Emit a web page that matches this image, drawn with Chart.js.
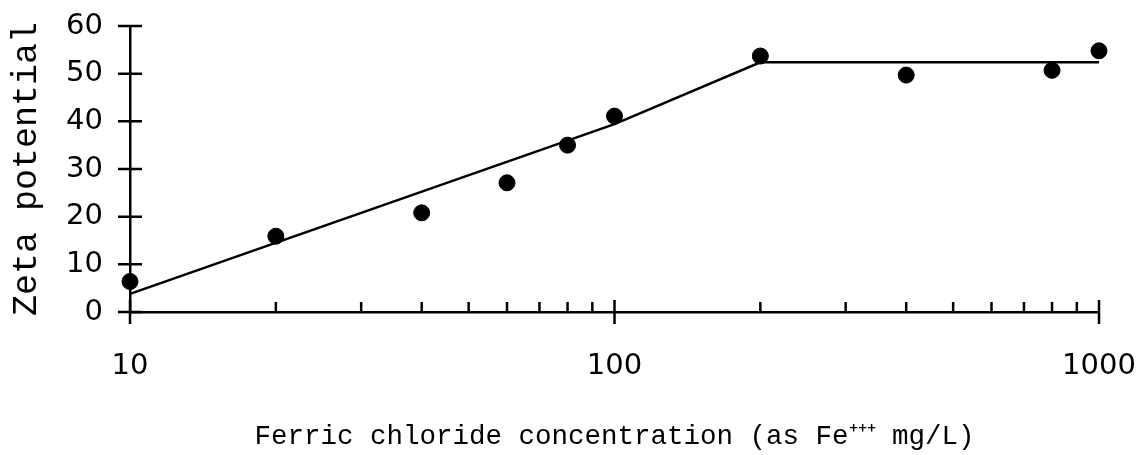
<!DOCTYPE html>
<html>
<head>
<meta charset="utf-8">
<script src="https://cdn.jsdelivr.net/npm/chart.js@4.4.1/dist/chart.umd.min.js"></script>
<style>
  body { margin: 0; background: #fff; }
  .wrap { width: 1144px; height: 455px; }
</style>
</head>
<body>
<div class="wrap"><canvas id="zeta"></canvas></div>
<script>
// measured points (ferric chloride dose, zeta potential)
const doses = [10, 20, 40, 60, 80, 100, 200, 400, 800, 1000];
const zeta = [6.4, 15.9, 20.8, 27.1, 35.0, 41.1, 53.7, 49.7, 50.7, 54.8];

// hand-drawn trend line
const fitDoses = [10, 100, 200, 1000];
const fitZeta = [3.8, 39.4, 52.4, 52.4];

// tick labels / tick marks
const yTicks = [0, 10, 20, 30, 40, 50, 60];
const xMajor = [10, 100, 1000];
const xMinor = [20, 30, 40, 50, 60, 70, 80, 90, 200, 300, 400, 500, 600, 700, 800, 900];

const tickFont = { family: "DejaVu Sans", size: 29 };

// drop the auto padding chart.js adds for edge labels
function noPad(s) {
  s.paddingTop = 0; s.paddingBottom = 0;
  s.paddingLeft = 0; s.paddingRight = 0;
}

// ticks that cross the axis lines, drawn from the scales
const crossTicks = {
  id: "crossTicks",
  afterDraw(chart) {
    const { ctx, chartArea, scales } = chart;
    const x = scales.x, y = scales.y;
    ctx.save();
    ctx.strokeStyle = "#000";
    ctx.lineWidth = 2.5;
    ctx.beginPath();
    yTicks.forEach(v => {
      const py = y.getPixelForValue(v);
      ctx.moveTo(chartArea.left - 12, py);
      ctx.lineTo(chartArea.left + 12, py);
    });
    xMajor.forEach(v => {
      const px = x.getPixelForValue(v);
      ctx.moveTo(px, chartArea.bottom - 12);
      ctx.lineTo(px, chartArea.bottom + 12);
    });
    xMinor.forEach(v => {
      const px = x.getPixelForValue(v);
      ctx.moveTo(px, chartArea.bottom - 10);
      ctx.lineTo(px, chartArea.bottom);
    });
    ctx.stroke();
    ctx.restore();
  }
};

new Chart(document.getElementById("zeta"), {
  type: "scatter",
  data: {
    datasets: [
      {
        label: "fit",
        data: fitDoses.map((d, i) => ({ x: d, y: fitZeta[i] })),
        showLine: true,
        borderColor: "#000",
        borderWidth: 2.5,
        pointRadius: 0,
        tension: 0,
        clip: false
      },
      {
        label: "measured",
        data: doses.map((d, i) => ({ x: d, y: zeta[i] })),
        backgroundColor: "#000",
        borderColor: "#000",
        pointRadius: 8,
        clip: false
      }
    ]
  },
  options: {
    responsive: true,
    maintainAspectRatio: false,
    animation: false,
    layout: { padding: { top: 26, right: 45, left: 0, bottom: 0 } },
    plugins: { legend: { display: false }, tooltip: { enabled: false } },
    scales: {
      x: {
        type: "logarithmic",
        min: 10,
        max: 1000,
        afterBuildTicks: s => { s.ticks = xMajor.map(v => ({ value: v })); },
        afterFit: s => { s.height = 143; noPad(s); },
        grid: { display: false, drawTicks: false },
        border: { display: true, color: "#000", width: 2.5 },
        ticks: {
          font: tickFont,
          color: "#000",
          padding: 37,
          maxRotation: 0,
          autoSkip: false,
          callback: v => String(v)
        },
        title: {
          display: true,
          text: "Ferric chloride concentration (as Fe⁺⁺⁺ mg/L)",
          font: { family: "Liberation Mono", size: 27.5 },
          color: "#000",
          padding: { top: 0, bottom: 2 }
        }
      },
      y: {
        min: 0,
        max: 60,
        afterBuildTicks: s => { s.ticks = yTicks.map(v => ({ value: v })); },
        afterFit: s => { s.width = 130; noPad(s); },
        grid: { display: false, drawTicks: false },
        border: { display: true, color: "#000", width: 2.5 },
        ticks: { font: tickFont, color: "#000", padding: 27 },
        title: {
          display: true,
          text: "Zeta potential",
          font: { family: "Liberation Mono", size: 35 },
          color: "#000",
          padding: { top: 6, bottom: 0 }
        }
      }
    }
  },
  plugins: [crossTicks]
});
</script>
</body>
</html>
